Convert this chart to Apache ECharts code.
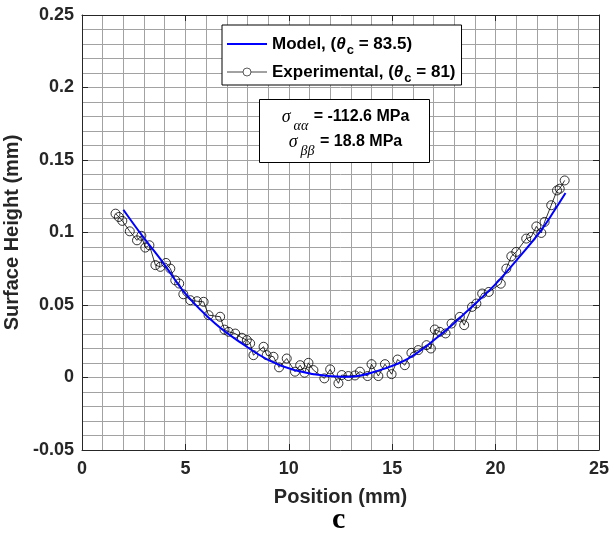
<!DOCTYPE html>
<html>
<head>
<meta charset="utf-8">
<script src="https://cdn.jsdelivr.net/npm/echarts@6/dist/echarts.min.js"></script>
<style>
  html, body { margin: 0; padding: 0; background: #fff; }
  #chart { width: 610px; height: 536px; }
</style>
</head>
<body>
<div id="chart"></div>
<script>
// Measured surface profile (position in mm, height in mm)
const expX = [1.62,1.78,1.95,2.31,2.66,2.87,3.06,3.26,3.55,3.79,4.06,4.27,4.51,4.70,4.90,5.24,5.56,5.88,6.12,6.68,6.89,7.09,7.41,7.73,7.97,8.13,8.29,8.78,8.93,9.26,9.53,9.90,10.30,10.55,10.76,10.95,11.19,11.72,12.00,12.40,12.56,12.88,13.20,13.44,13.81,14.00,14.33,14.65,14.97,15.26,15.61,15.93,16.26,16.66,16.87,17.06,17.30,17.58,17.87,18.27,18.48,18.86,19.07,19.35,19.67,20.25,20.52,20.76,21.00,21.48,21.72,21.97,22.21,22.37,22.69,22.97,23.10,23.34];
const expY = [0.113,0.1107,0.108,0.1008,0.0946,0.0977,0.0896,0.0912,0.0775,0.0763,0.079,0.0751,0.067,0.0648,0.0574,0.0533,0.0526,0.0522,0.043,0.0419,0.033,0.0315,0.0303,0.0274,0.0258,0.0235,0.0154,0.0212,0.0154,0.0143,0.007,0.0131,0.004,0.0085,0.0033,0.0101,0.0051,-0.0006,0.0056,-0.004,0.0017,0.001,0.0014,0.004,0.001,0.0092,0.001,0.0092,0.0023,0.0124,0.0085,0.017,0.0189,0.0223,0.02,0.0331,0.0315,0.0304,0.0372,0.0418,0.0361,0.0487,0.051,0.0579,0.059,0.0647,0.0751,0.0836,0.0866,0.0958,0.0969,0.1042,0.0997,0.1073,0.1188,0.129,0.1302,0.1359];

// Model prediction
const modelX = [2.0,2.9,3.95,5.0,6.44,7.73,9.02,10.3,11.9,12.9,14.16,15.77,17.38,18.67,19.95,21.08,22.2,22.85,23.38];
const modelY = [0.1157,0.098,0.0786,0.0579,0.0372,0.0235,0.012,0.005,0.001,0.0005,0.004,0.013,0.030,0.0464,0.0637,0.082,0.1015,0.1153,0.1272];

// Axis ticks
const xTicks = [0, 5, 10, 15, 20, 25];
const yTicks = [-0.05, 0, 0.05, 0.1, 0.15, 0.2, 0.25];

const sans = 'Liberation Sans, Arial, sans-serif';
const serif = 'Liberation Serif, Times New Roman, serif';
const axisColor = '#262626';
const gridColor = '#a2a2a2';

const zip = (a, b) => a.map((v, i) => [v, b[i]]);

const chart = echarts.init(document.getElementById('chart'), null, { renderer: 'canvas' });

const baseX = {
  type: 'value', min: xTicks[0], max: xTicks[xTicks.length - 1], interval: 5,
  axisLine: { show: true, onZero: false, lineStyle: { color: axisColor, width: 1 } },
  axisTick: { show: true, inside: true, length: 6, lineStyle: { color: axisColor } }
};
const baseY = {
  type: 'value', min: yTicks[0], max: yTicks[yTicks.length - 1], interval: 0.05,
  axisLine: { show: true, onZero: false, lineStyle: { color: axisColor, width: 1 } },
  axisTick: { show: true, inside: true, length: 6, lineStyle: { color: axisColor } }
};

// Rich text styles for the legend entries (theta with subscript c)
const legendText = {
  t: { fontFamily: sans, fontWeight: 'bold', fontSize: 17, color: '#000', lineHeight: 22 },
  i: { fontFamily: sans, fontStyle: 'italic', fontWeight: 'bold', fontSize: 17, color: '#000', lineHeight: 22 },
  s: { fontFamily: sans, fontWeight: 'bold', fontSize: 13, color: '#000', lineHeight: 12, padding: [13, 0, 0, 1] }
};

chart.setOption({
  animation: false,
  backgroundColor: '#fff',
  grid: { left: 82, right: 11, top: 15, bottom: 86, containLabel: false, outerBoundsMode: 'none' },
  xAxis: [
    Object.assign({}, baseX, {
      position: 'bottom',
      name: 'Position (mm)', nameLocation: 'middle', nameGap: 37,
      nameTextStyle: { fontFamily: sans, fontWeight: 'bold', fontSize: 20, color: '#262626' },
      axisLabel: { show: true, margin: 10, fontFamily: sans, fontWeight: 'bold', fontSize: 18, color: '#262626' },
      splitLine: { show: true, lineStyle: { color: gridColor, width: 1 } },
      minorTick: { show: false, splitNumber: 5 },
      minorSplitLine: { show: true, lineStyle: { color: gridColor, width: 1 } }
    }),
    Object.assign({}, baseX, {
      position: 'top',
      axisLabel: { show: false }, splitLine: { show: false }
    })
  ],
  yAxis: [
    Object.assign({}, baseY, {
      position: 'left',
      name: 'Surface Height (mm)', nameLocation: 'middle', nameGap: 12, nameRotate: 90,
      nameTextStyle: { fontFamily: sans, fontWeight: 'bold', fontSize: 20, color: '#262626' },
      axisLabel: {
        show: true, margin: 8, fontFamily: sans, fontWeight: 'bold', fontSize: 18, color: '#262626',
        formatter: v => String(parseFloat(v.toFixed(3)))
      },
      splitLine: { show: true, lineStyle: { color: gridColor, width: 1 } },
      minorTick: { show: false, splitNumber: 5 },
      minorSplitLine: { show: true, lineStyle: { color: gridColor, width: 1 } }
    }),
    Object.assign({}, baseY, {
      position: 'right',
      axisLabel: { show: false }, splitLine: { show: false }
    })
  ],
  legend: {
    orient: 'vertical', left: 222, top: 25,
    padding: [6, 6, 0, 4],
    itemGap: 2, itemWidth: 40, itemHeight: 10,
    backgroundColor: '#fff', borderColor: '#000', borderWidth: 1,
    textStyle: { rich: legendText, fontSize: 17 },
    formatter: name => name === 'Model'
      ? '{t|Model, (}{i|θ}{s|c}{t| = 83.5)}'
      : '{t|Experimental, (}{i|θ}{s|c}{t| = 81)}',
    data: [
      { name: 'Model', itemStyle: { opacity: 0 } },
      { name: 'Experimental', itemStyle: { color: '#fff', borderColor: '#333', borderWidth: 0.8 }, lineStyle: { color: '#444', width: 1 } }
    ],
    z: 20
  },
  graphic: [
    {
      type: 'group', left: 259, top: 99, z: 100,
      children: [
        { type: 'rect', shape: { x: 0, y: 0, width: 170, height: 63 },
          style: { fill: '#fff', stroke: '#000', lineWidth: 1 }, z: 100 },
        { type: 'text', x: 86, y: 30, z: 101,
          style: {
            text: '{g|σ}{sub|αα}{t| = -112.6 MPa}\n{g|σ}{sub|ββ}{t| = 18.8 MPa}',
            align: 'center', verticalAlign: 'middle',
            rich: {
              g: { fontFamily: serif, fontStyle: 'italic', fontSize: 18, fill: '#000', lineHeight: 25 },
              sub: { fontFamily: serif, fontStyle: 'italic', fontSize: 14, fill: '#000', lineHeight: 12, padding: [18, 1, 0, 3] },
              t: { fontFamily: sans, fontWeight: 'bold', fontSize: 16, fill: '#000', lineHeight: 25 }
            }
          } }
      ]
    },
    {
      type: 'text', left: 332, top: 505, z: 100,
      style: { text: 'c', fontFamily: serif, fontWeight: 'bold', fontSize: 30, fill: '#000' }
    }
  ],
  series: [
    {
      name: 'Experimental', type: 'line', xAxisIndex: 0, yAxisIndex: 0,
      data: zip(expX, expY),
      symbol: 'circle', symbolSize: 9,
      lineStyle: { color: '#000', width: 0.8 },
      itemStyle: { color: 'rgba(0,0,0,0)', borderColor: '#000', borderWidth: 0.8 },
      z: 2
    },
    {
      name: 'Model', type: 'line', xAxisIndex: 0, yAxisIndex: 0,
      data: zip(modelX, modelY),
      smooth: 0.4, symbol: 'none',
      lineStyle: { color: '#0000ff', width: 2 },
      itemStyle: { color: '#0000ff' },
      z: 3
    }
  ]
});
</script>
</body>
</html>
